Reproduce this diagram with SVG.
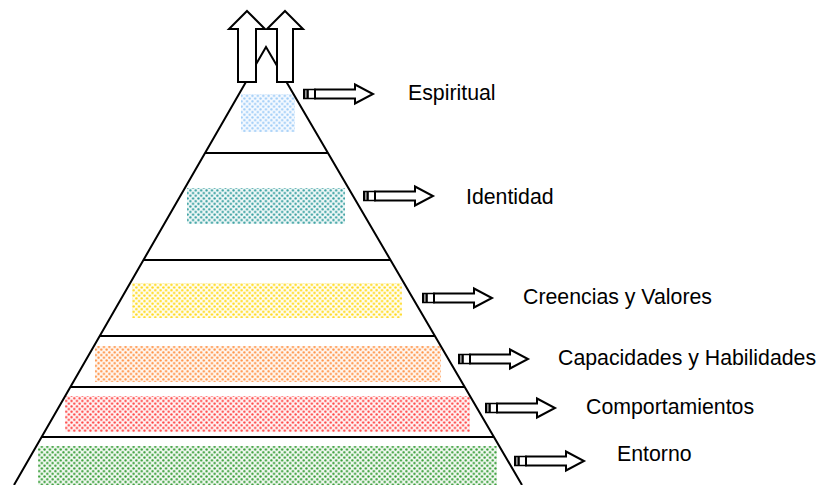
<svg xmlns="http://www.w3.org/2000/svg" width="827" height="485" viewBox="0 0 827 485">
<style>
.edge{stroke:#000;stroke-width:2;fill:none}
.lvl{stroke:#000;stroke-width:2}
.lbl{font-family:"Liberation Sans",Arial,sans-serif;font-size:21.3px;fill:#000}
.big{fill:#fff;stroke:#000;stroke-width:2;stroke-linejoin:miter}
</style>
<defs>
<pattern id="pBlue" width="5.4" height="5.4" patternUnits="userSpaceOnUse"><rect width="5.4" height="5.4" fill="#f4f9ff"/><circle cx="1.35" cy="1.35" r="1.15" fill="#9ccbf7"/><circle cx="4.05" cy="4.05" r="1.15" fill="#9ccbf7"/></pattern>
<pattern id="pTeal" width="5.4" height="5.4" patternUnits="userSpaceOnUse"><rect width="5.4" height="5.4" fill="#eef7f7"/><circle cx="1.35" cy="1.35" r="1.15" fill="#2f9c9c"/><circle cx="4.05" cy="4.05" r="1.15" fill="#2f9c9c"/></pattern>
<pattern id="pYellow" width="5.4" height="5.4" patternUnits="userSpaceOnUse"><rect width="5.4" height="5.4" fill="#fffdf0"/><circle cx="1.35" cy="1.35" r="1.2" fill="#ffd91a"/><circle cx="4.05" cy="4.05" r="1.2" fill="#ffd91a"/></pattern>
<pattern id="pOrange" width="5.4" height="5.4" patternUnits="userSpaceOnUse"><rect width="5.4" height="5.4" fill="#fff6ef"/><circle cx="1.35" cy="1.35" r="1.15" fill="#ff8f40"/><circle cx="4.05" cy="4.05" r="1.15" fill="#ff8f40"/></pattern>
<pattern id="pRed" width="5.4" height="5.4" patternUnits="userSpaceOnUse"><rect width="5.4" height="5.4" fill="#fff3f3"/><circle cx="1.35" cy="1.35" r="1.15" fill="#ff4040"/><circle cx="4.05" cy="4.05" r="1.15" fill="#ff4040"/></pattern>
<pattern id="pGreen" width="5.4" height="5.4" patternUnits="userSpaceOnUse"><rect width="5.4" height="5.4" fill="#f1f8f1"/><circle cx="1.35" cy="1.35" r="1.15" fill="#2f9a2f"/><circle cx="4.05" cy="4.05" r="1.15" fill="#2f9a2f"/></pattern>
<g id="smallArrow">
<rect x="0.75" y="-4.5" width="11.5" height="9" fill="#fff" stroke="#000" stroke-width="1.5"/>
<rect x="0" y="-4.5" width="2.4" height="9" fill="#000"/>
<rect x="3.4" y="-4.5" width="2.4" height="9" fill="#000"/>
<polygon points="12,-4.5 52,-4.5 52,-9.5 70,0 52,9.5 52,4.5 12,4.5" fill="#fff" stroke="#000" stroke-width="2"/>
</g>
</defs>

<g id="fills">
<rect x="241" y="94" width="54" height="38" fill="url(#pBlue)"/>
<rect x="187" y="188" width="158" height="36" fill="url(#pTeal)"/>
<rect x="132" y="283" width="270" height="35" fill="url(#pYellow)"/>
<rect x="95" y="346" width="346" height="36" fill="url(#pOrange)"/>
<rect x="65" y="396" width="405" height="36" fill="url(#pRed)"/>
<rect x="38" y="446" width="459" height="39" fill="url(#pGreen)"/>
</g>

<g id="pyramid">
<polyline class="edge" points="14,485 266,47 522,485"/>
<line class="lvl" x1="205" y1="153" x2="328" y2="153"/>
<line class="lvl" x1="143.5" y1="260" x2="390.5" y2="260"/>
<line class="lvl" x1="100" y1="336" x2="435" y2="336"/>
<line class="lvl" x1="70.5" y1="387" x2="465" y2="387"/>
<line class="lvl" x1="42" y1="437" x2="494" y2="437"/>
</g>

<g id="topArrows">
<polygon class="big" points="247,11 265,29 256,29 256,82 238,82 238,29 229,29"/>
<polygon class="big" points="285,11 303,29 293,29 293,82 277,82 277,29 267,29"/>
</g>

<g id="connectors">
<use href="#smallArrow" x="303" y="94"/>
<use href="#smallArrow" x="363" y="196"/>
<use href="#smallArrow" x="422" y="298"/>
<use href="#smallArrow" x="458" y="359"/>
<use href="#smallArrow" x="485" y="408"/>
<use href="#smallArrow" x="514" y="461"/>
</g>

<g id="n-espiritual"><text class="lbl" x="408" y="100">Espiritual</text></g>
<g id="n-identidad"><text class="lbl" x="466" y="204">Identidad</text></g>
<g id="n-creencias"><text class="lbl" x="523" y="304">Creencias y Valores</text></g>
<g id="n-capacidades"><text class="lbl" x="558" y="365">Capacidades y Habilidades</text></g>
<g id="n-comportamientos"><text class="lbl" x="586" y="414">Comportamientos</text></g>
<g id="n-entorno"><text class="lbl" x="617" y="461">Entorno</text></g>
</svg>
